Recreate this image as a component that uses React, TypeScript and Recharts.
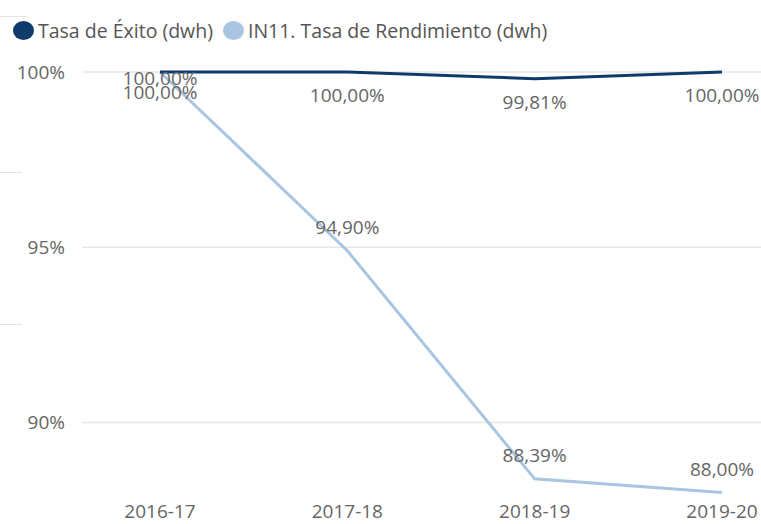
import React from 'react'
import { LineChart, Line, XAxis, YAxis, CartesianGrid, LabelList } from 'recharts'

const years = ['2016-17', '2017-18', '2018-19', '2019-20']
const tasaExito = [100, 100, 99.81, 100]
const tasaRendimiento = [100, 94.9, 88.39, 88.0]
const yTicks = [90, 95, 100]

const data = years.map((year, i) => ({
  year,
  exito: tasaExito[i],
  rendimiento: tasaRendimiento[i],
}))

const DARK = '#0e3a6c'
const LIGHT = '#a9c5e1'
const FONT = '"Open Sans", "Noto Sans", sans-serif'

const fmt = (v: number) => v.toFixed(2).replace('.', ',') + '%'

// dark labels sit under the line, light ones above; first point is crowded
const darkLabel = (props: any) => {
  const { x, y, value, index } = props
  const dy = index === 0 ? 22 : 25
  return (
    <text x={x} y={y + dy} textAnchor="middle" dominantBaseline="middle" fill="#666" fontSize={19} fontFamily={FONT}>
      {fmt(value)}
    </text>
  )
}

const lightLabel = (props: any) => {
  const { x, y, value, index } = props
  const dy = index === 0 ? 8 : -22
  return (
    <text x={x} y={y + dy} textAnchor="middle" dominantBaseline="middle" fill="#666" fontSize={19} fontFamily={FONT}>
      {fmt(value)}
    </text>
  )
}

function LegendItem({ color, label }: { color: string; label: string }) {
  return (
    <span style={{ display: 'inline-flex', alignItems: 'center', marginRight: 10 }}>
      <span style={{ width: 21, height: 19, borderRadius: '50%', background: color, display: 'inline-block', marginRight: 4 }} />
      <span>{label}</span>
    </span>
  )
}

export default function App() {
  return (
    <div style={{ position: 'relative', width: 761, height: 524, background: '#fff', fontFamily: FONT }}>
      <style>{'body{margin:0}'}</style>
      <div style={{ position: 'absolute', left: 0, top: 16, width: 27, height: 1, background: '#e4e4e4' }} />
      <div style={{ position: 'absolute', left: 0, top: 172, width: 22, height: 1, background: '#e4e4e4' }} />
      <div style={{ position: 'absolute', left: 0, top: 324, width: 22, height: 1, background: '#e4e4e4' }} />
      <div style={{ position: 'absolute', left: 13, top: 17, fontSize: 19.5, color: '#555', display: 'flex', whiteSpace: 'nowrap' }}>
        <LegendItem color={DARK} label="Tasa de Éxito (dwh)" />
        <LegendItem color={LIGHT} label="IN11. Tasa de Rendimiento (dwh)" />
      </div>
      <LineChart width={761} height={524} data={data} margin={{ top: 72, right: 0, bottom: 0, left: 0 }}>
        <CartesianGrid
          vertical={false}
          stroke="#e6e6e6"
          strokeWidth={1.5}
          horizontalValues={yTicks}
        />
        <XAxis
          dataKey="year"
          axisLine={false}
          tickLine={false}
          tickSize={0}
          tickMargin={9}
          height={28}
          padding={{ left: 78, right: 39 }}
          tick={{ fontSize: 19, fill: '#666', fontFamily: FONT }}
        />
        <YAxis
          domain={[87.9, 100]}
          ticks={yTicks}
          width={82}
          axisLine={false}
          tickLine={false}
          tickSize={0}
          tickMargin={17}
          tickFormatter={(v: number) => `${v}%`}
          tick={{ fontSize: 19, fill: '#666', fontFamily: FONT }}
        />
        <Line dataKey="rendimiento" stroke={LIGHT} strokeWidth={3} dot={false} isAnimationActive={false}>
          <LabelList dataKey="rendimiento" content={lightLabel} />
        </Line>
        <Line dataKey="exito" stroke={DARK} strokeWidth={3} dot={false} isAnimationActive={false}>
          <LabelList dataKey="exito" content={darkLabel} />
        </Line>
      </LineChart>
    </div>
  )
}
